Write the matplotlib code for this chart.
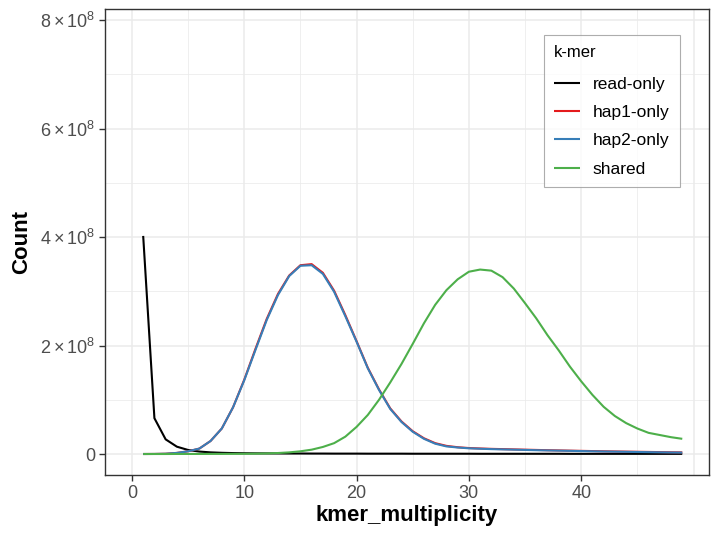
import matplotlib
matplotlib.use("Agg")
import matplotlib.pyplot as plt
from matplotlib.ticker import FixedLocator, FuncFormatter
import numpy as np

plt.rcParams['font.family'] = ['Liberation Sans', 'DejaVu Sans']
plt.rcParams['mathtext.fontset'] = 'custom'
plt.rcParams['mathtext.rm'] = 'Liberation Sans'
plt.rcParams['mathtext.it'] = 'Liberation Sans:italic'

kmer_multiplicity = list(range(1, 50))

# values in units of 1e8
read_only = [4.02, 0.66, 0.27, 0.135, 0.074, 0.045, 0.03, 0.022, 0.017, 0.014,
             0.012, 0.011, 0.010, 0.009, 0.009, 0.008, 0.008, 0.007, 0.007, 0.007,
             0.006, 0.006, 0.006, 0.006, 0.005, 0.005, 0.005, 0.005, 0.005, 0.005,
             0.004, 0.004, 0.004, 0.004, 0.004, 0.004, 0.004, 0.004, 0.003, 0.003,
             0.003, 0.003, 0.003, 0.003, 0.003, 0.003, 0.003, 0.003, 0.003]

hap2_only = [0.0, 0.001, 0.005, 0.02, 0.05, 0.10, 0.24, 0.47, 0.86, 1.36,
             1.92, 2.47, 2.93, 3.28, 3.47, 3.48, 3.32, 2.99, 2.54, 2.07,
             1.58, 1.18, 0.83, 0.59, 0.41, 0.28, 0.19, 0.14, 0.12, 0.105,
             0.097, 0.09, 0.085, 0.08, 0.075, 0.07, 0.066, 0.062, 0.058, 0.054,
             0.05, 0.046, 0.043, 0.04, 0.037, 0.034, 0.031, 0.028, 0.026]

hap1_only = [0.0, 0.001, 0.005, 0.02, 0.05, 0.10, 0.24, 0.47, 0.86, 1.37,
             1.94, 2.49, 2.95, 3.29, 3.48, 3.50, 3.34, 3.01, 2.56, 2.08,
             1.59, 1.19, 0.84, 0.60, 0.42, 0.29, 0.20, 0.15, 0.125, 0.11,
             0.102, 0.095, 0.09, 0.085, 0.08, 0.075, 0.07, 0.066, 0.062, 0.058,
             0.054, 0.05, 0.047, 0.044, 0.041, 0.038, 0.035, 0.032, 0.03]

shared = [0.0, 0.0, 0.0, 0.001, 0.001, 0.001, 0.002, 0.002, 0.003, 0.004,
          0.006, 0.01, 0.018, 0.03, 0.05, 0.08, 0.13, 0.20, 0.32, 0.50,
          0.72, 1.0, 1.32, 1.66, 2.03, 2.41, 2.75, 3.02, 3.22, 3.36,
          3.40, 3.38, 3.26, 3.05, 2.78, 2.50, 2.19, 1.91, 1.61, 1.34,
          1.09, 0.87, 0.70, 0.57, 0.47, 0.39, 0.35, 0.31, 0.28]

series = [("read-only", read_only, "#000000"),
          ("hap1-only", hap1_only, "#E41A1C"),
          ("hap2-only", hap2_only, "#377EB8"),
          ("shared", shared, "#4DAF4A")]

x_ticks = [0, 10, 20, 30, 40]
y_ticks = [0, 2e8, 4e8, 6e8, 8e8]

W, H = 719, 539
fig = plt.figure(figsize=(W / 100, H / 100), dpi=100)
ax = fig.add_axes([105 / W, 1 - 475 / H, (709 - 105) / W, (475 - 9) / H])

x = np.array(kmer_multiplicity)
for name, vals, col in series:
    ax.plot(x, np.array(vals) * 1e8, color=col, lw=1.5, label=name,
            solid_capstyle='butt', zorder=3)

ax.set_xlim(-2.40, 51.38)
ax.set_ylim(-0.387e8, 8.203e8)

ax.xaxis.set_major_locator(FixedLocator(x_ticks))
ax.xaxis.set_minor_locator(FixedLocator([5, 15, 25, 35, 45]))
ax.yaxis.set_major_locator(FixedLocator(y_ticks))
ax.yaxis.set_minor_locator(FixedLocator([1e8, 3e8, 5e8, 7e8]))

def yfmt(v, pos):
    if v == 0:
        return "0"
    m = v / 1e8
    return r"$%d\times10^{8}$" % round(m)

ax.yaxis.set_major_formatter(FuncFormatter(yfmt))

ax.set_axisbelow(True)
ax.grid(which='major', color='#EBEBEB', lw=1.1)
ax.grid(which='minor', color='#EBEBEB', lw=0.55)
# extra major grid line at 50 visible in reference
ax.axvline(50, color='#EBEBEB', lw=1.1, zorder=0)

for s in ax.spines.values():
    s.set_color('#333333')
    s.set_linewidth(1.0)

ax.tick_params(which='major', length=4, width=1.0, color='#333333',
               labelsize=13, labelcolor='#4D4D4D', pad=3)
ax.tick_params(which='minor', length=0)

ax.set_xlabel("kmer_multiplicity", fontsize=16, fontweight='bold', labelpad=2)
ax.set_ylabel("Count", fontsize=16, fontweight='bold', labelpad=6)

leg = fig.legend(loc='upper right', bbox_to_anchor=(680 / W, 1 - 34.5 / H),
                 title="k-mer", fontsize=12.5, title_fontsize=12,
                 frameon=True, fancybox=False, edgecolor='#999999',
                 borderaxespad=0, handlelength=1.5, handletextpad=0.7,
                 labelspacing=0.75, borderpad=0.62, alignment='left')
leg.get_frame().set_linewidth(0.8)
leg._legend_box.sep = 12.0
for line in leg.get_lines():
    line.set_linewidth(1.5)

fig.savefig("out.png", dpi=100)
